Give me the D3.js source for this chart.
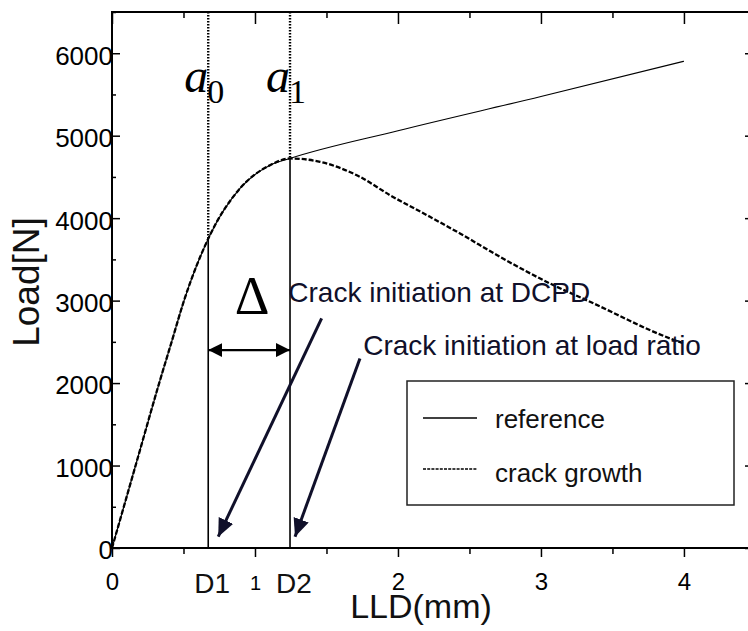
<!DOCTYPE html>
<html>
<head>
<meta charset="utf-8">
<script src="https://cdn.jsdelivr.net/npm/d3@7"></script>
<style>
body { margin: 0; background: #fff; }
svg { display: block; font-family: "Liberation Sans", Arial, sans-serif; }
</style>
</head>
<body>
<div id="my_dataviz"></div>
<script>

// crack growth curve (LLD mm, load N)
var lld_growth = [0, 0.165, 0.33, 0.417, 0.5, 0.685, 0.895, 1.105, 1.245, 1.455, 1.734, 1.944, 2.224, 2.434, 2.713, 3.063, 3.343, 3.902, 4.0];
var load_growth = [0, 1000, 2000, 2500, 2980, 3794, 4360, 4642, 4724, 4683, 4501, 4279, 4016, 3814, 3531, 3208, 2986, 2542, 2480];

// reference curve
var lld_reference = [0, 0.165, 0.33, 0.417, 0.5, 0.685, 0.895, 1.105, 1.245, 2.0, 3.0, 4.0];
var load_reference = [0, 1000, 2000, 2500, 2980, 3794, 4360, 4642, 4724, 5060, 5475, 5903];

// crack initiation points
var mark_names = ["D1", "D2"];
var mark_subs = ["0", "1"];
var mark_lld = [0.673, 1.245];
var mark_load = [3760, 4724];

var x_ticks = [0, 1, 2, 3, 4];
var x_minor = [0.5, 1.5, 2.5, 3.5];
var y_ticks = [0, 1000, 2000, 3000, 4000, 5000, 6000];
var y_minor = [500, 1500, 2500, 3500, 4500, 5500, 6500];

var legend_names = ["reference", "crack growth"];
var note_texts = ["Crack initiation at DCPD", "Crack initiation at load ratio"];

var margin = { top: 12, left: 112 },
    width = 637,
    height = 536;

var ink = "#000";
var navy = "#10102a";
var font = "Liberation Sans, Arial, sans-serif";

var svg = d3.select("#my_dataviz")
    .append("svg")
    .attr("width", 748)
    .attr("height", 631);

var defs = svg.append("defs");
defs.append("marker")
    .attr("id", "head")
    .attr("markerUnits", "userSpaceOnUse")
    .attr("viewBox", "0 0 14 14")
    .attr("refX", 14).attr("refY", 7)
    .attr("markerWidth", 14).attr("markerHeight", 14)
    .attr("orient", "auto-start-reverse")
    .append("path")
    .attr("d", "M0,0 L14,7 L0,14 z")
    .attr("fill", "#000");
defs.append("marker")
    .attr("id", "head2")
    .attr("markerUnits", "userSpaceOnUse")
    .attr("viewBox", "0 0 18 16")
    .attr("refX", 18).attr("refY", 8)
    .attr("markerWidth", 18).attr("markerHeight", 16)
    .attr("orient", "auto")
    .append("path")
    .attr("d", "M0,0 L18,8 L0,16 z")
    .attr("fill", navy);

var g = svg.append("g")
    .attr("transform", "translate(" + margin.left + "," + margin.top + ")");

var x = d3.scaleLinear().domain([0, 4.455]).range([0, width]);
var y = d3.scaleLinear().domain([0, 6500]).range([height, 0]);

function style_axis(sel) {
    sel.select(".domain").remove();
    sel.attr("font-family", font);
    sel.selectAll("line").attr("stroke", ink).attr("stroke-width", 1.5);
}

// bottom axis
g.append("g")
    .attr("transform", "translate(0," + height + ")")
    .call(d3.axisBottom(x).tickValues(x_ticks).tickSize(9).tickSizeOuter(0).tickFormat(d3.format("d")))
    .call(style_axis)
    .call(function (a) {
        a.selectAll("text").attr("y", 42).attr("dy", 0).attr("fill", ink)
            .attr("font-size", function (d) { return d == 1 ? 20 : 24; });
    });
g.append("g")
    .attr("transform", "translate(0," + height + ")")
    .call(d3.axisBottom(x).tickValues(x_minor).tickSize(6).tickSizeOuter(0).tickFormat(""))
    .call(style_axis);

// top axis (ticks only)
g.append("g")
    .call(d3.axisTop(x).tickValues(x_ticks).tickSize(-12).tickSizeOuter(0).tickFormat(""))
    .call(style_axis);
g.append("g")
    .call(d3.axisTop(x).tickValues(x_minor).tickSize(-6).tickSizeOuter(0).tickFormat(""))
    .call(style_axis);

// left axis
g.append("g")
    .call(d3.axisLeft(y).tickValues(y_ticks).tickSize(-8).tickSizeOuter(0).tickFormat(d3.format("d")))
    .call(style_axis)
    .call(function (a) {
        a.selectAll("text").attr("x", 1).attr("dy", "0.42em").attr("fill", ink)
            .attr("font-size", 26);
    });
g.append("g")
    .call(d3.axisLeft(y).tickValues(y_minor).tickSize(-4).tickSizeOuter(0).tickFormat(""))
    .call(style_axis);

// right axis (ticks only)
g.append("g")
    .attr("transform", "translate(" + width + ",0)")
    .call(d3.axisRight(y).tickValues(y_ticks).tickSize(-4).tickSizeOuter(0).tickFormat(""))
    .call(style_axis);

// frame
g.append("rect")
    .attr("x", 0).attr("y", 0)
    .attr("width", x(x.domain()[1])).attr("height", y(0))
    .attr("fill", "none").attr("stroke", ink).attr("stroke-width", 2);

// curves
var line = d3.line()
    .curve(d3.curveMonotoneX)
    .x(function (d) { return x(d[0]); })
    .y(function (d) { return y(d[1]); });

var ref_data = lld_reference.map(function (v, i) { return [v, load_reference[i]]; });
var growth_data = lld_growth.map(function (v, i) { return [v, load_growth[i]]; });

g.append("path")
    .attr("d", line(ref_data))
    .attr("fill", "none").attr("stroke", ink).attr("stroke-width", 1.2);

g.append("path")
    .attr("d", line(growth_data))
    .attr("fill", "none").attr("stroke", ink).attr("stroke-width", 2.3)
    .attr("stroke-dasharray", "5,2");

// crack initiation verticals
var marks = mark_names.map(function (n, i) {
    return { name: n, sub: mark_subs[i], lld: mark_lld[i], load: mark_load[i] };
});

g.selectAll("myDotted").data(marks).enter()
    .append("line")
    .attr("x1", function (d) { return x(d.lld); })
    .attr("x2", function (d) { return x(d.lld); })
    .attr("y1", y(6500))
    .attr("y2", function (d) { return y(d.load); })
    .attr("stroke", ink).attr("stroke-width", 2.4)
    .attr("stroke-dasharray", "1.5,1.5");

g.selectAll("mySolid").data(marks).enter()
    .append("line")
    .attr("x1", function (d) { return x(d.lld); })
    .attr("x2", function (d) { return x(d.lld); })
    .attr("y1", function (d) { return y(d.load); })
    .attr("y2", y(0))
    .attr("stroke", ink).attr("stroke-width", 1.6);

// a0, a1
var a_text = g.selectAll("myA").data(marks).enter()
    .append("text")
    .attr("x", function (d) { return x(d.lld) - 24; })
    .attr("y", y(5530))
    .attr("font-family", "Liberation Serif, Times New Roman, serif")
    .attr("font-size", 48)
    .attr("fill", ink);
a_text.append("tspan").attr("font-style", "italic").text("a");
a_text.append("tspan")
    .attr("dx", -1).attr("dy", 11.5)
    .attr("font-size", 34)
    .text(function (d) { return d.sub; });

// D1, D2 labels under the axis
g.selectAll("myD").data(marks).enter()
    .append("text")
    .attr("x", function (d) { return x(d.lld) + 4; })
    .attr("y", height + 45)
    .attr("text-anchor", "middle")
    .attr("font-size", 28)
    .attr("fill", "#111")
    .text(function (d) { return d.name; });

// delta with double arrow
g.append("text")
    .attr("x", (x(mark_lld[0]) + x(mark_lld[1])) / 2 + 3)
    .attr("y", y(2836))
    .attr("text-anchor", "middle")
    .attr("font-family", "Liberation Serif, Times New Roman, serif")
    .attr("font-size", 54)
    .attr("fill", ink)
    .text("\u0394");

g.append("line")
    .attr("x1", x(mark_lld[0])).attr("x2", x(mark_lld[1]))
    .attr("y1", y(2400)).attr("y2", y(2400))
    .attr("stroke", ink).attr("stroke-width", 2.2)
    .attr("marker-start", "url(#head)")
    .attr("marker-end", "url(#head)");

// annotations
var notes = [
    { text: note_texts[0], lld: 1.233, load: 2982, from: [1.466, 2784], to: [0.743, 137] },
    { text: note_texts[1], lld: 1.757, load: 2339, from: [1.734, 2299], to: [1.28, 137] }
];

g.selectAll("myNotes").data(notes).enter()
    .append("text")
    .attr("x", function (d) { return x(d.lld); })
    .attr("y", function (d) { return y(d.load); })
    .attr("font-size", 28)
    .attr("fill", navy)
    .text(function (d) { return d.text; });

g.selectAll("myArrows").data(notes).enter()
    .append("line")
    .attr("x1", function (d) { return x(d.from[0]); })
    .attr("y1", function (d) { return y(d.from[1]); })
    .attr("x2", function (d) { return x(d.to[0]); })
    .attr("y2", function (d) { return y(d.to[1]); })
    .attr("stroke", navy).attr("stroke-width", 3)
    .attr("marker-end", "url(#head2)");

// legend
var legend = g.append("g").attr("transform", "translate(295,369)");
legend.append("rect")
    .attr("width", 327).attr("height", 124)
    .attr("fill", "#fff").attr("stroke", "#222").attr("stroke-width", 1.5);

legend.selectAll("myLegendLines").data(legend_names).enter()
    .append("line")
    .attr("x1", 16).attr("x2", 70)
    .attr("y1", function (d, i) { return 37 + i * 51; })
    .attr("y2", function (d, i) { return 37 + i * 51; })
    .attr("stroke", ink)
    .attr("stroke-width", function (d, i) { return i == 0 ? 1.3 : 1.6; })
    .attr("stroke-dasharray", function (d, i) { return i == 0 ? null : "3,1.2"; });

legend.selectAll("myLegendText").data(legend_names).enter()
    .append("text")
    .attr("x", 88)
    .attr("y", function (d, i) { return 47 + i * 54; })
    .attr("font-size", 26)
    .attr("fill", "#111")
    .text(function (d) { return d; });

// axis titles
svg.append("text")
    .attr("x", 421).attr("y", 618)
    .attr("text-anchor", "middle")
    .attr("font-size", 34)
    .attr("fill", "#111")
    .text("LLD(mm)");

svg.append("text")
    .attr("transform", "translate(39,282) rotate(-90)")
    .attr("text-anchor", "middle")
    .attr("font-size", 37)
    .attr("fill", "#111")
    .text("Load[N]");

</script>
</body>
</html>
